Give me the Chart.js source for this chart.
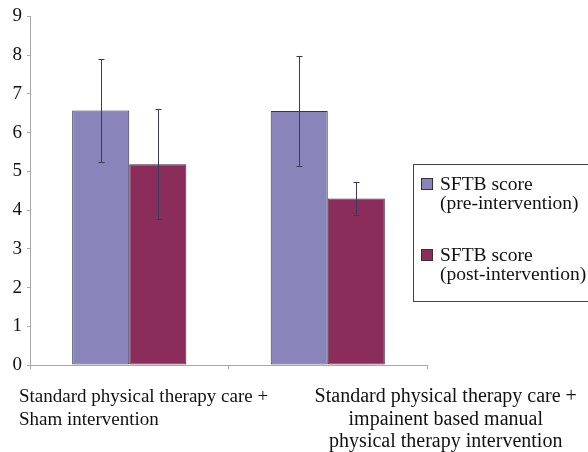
<!DOCTYPE html>
<html>
<head>
<meta charset="utf-8">
<script src="https://cdn.jsdelivr.net/npm/chart.js@4/dist/chart.umd.min.js"></script>
<style>
html,body{margin:0;padding:0;background:#fff;}
#wrap{width:588px;height:452px;position:relative;}
</style>
</head>
<body>
<div id="wrap"><canvas id="c" width="588" height="452"></canvas></div>
<script>
// ---- data ----
const categories = [
  ["Standard physical therapy care +", "Sham intervention"],
  ["Standard physical therapy care +", "impainent based manual", "physical therapy intervention"]
];
const seriesNames = [
  ["SFTB score", "(pre-intervention)"],
  ["SFTB score", "(post-intervention)"]
];
const preValues = [6.57, 6.56];
const preErrors = [1.33, 1.42];
const postValues = [5.18, 4.30];
const postErrors = [1.42, 0.43];
const yTicks = [0, 1, 2, 3, 4, 5, 6, 7, 8, 9];

const FONT = '"Liberation Serif", "Times New Roman", serif';
const AXIS = '#a8a8a8';

const errorBars = {
  id: 'errorBars',
  afterDatasetsDraw(chart) {
    const ctx = chart.ctx;
    const y = chart.scales.y;
    ctx.save();
    chart.data.datasets.forEach((ds, di) => {
      const meta = chart.getDatasetMeta(di);
      meta.data.forEach((bar, i) => {
        const v = ds.data[i], e = ds.errors[i];
        const x = Math.round(bar.x) + 0.5;
        const yt = y.getPixelForValue(v + e);
        const yb = y.getPixelForValue(v - e);
        ctx.strokeStyle = '#3a3a5c';
        ctx.lineWidth = 1;
        ctx.beginPath();
        ctx.moveTo(x, yt); ctx.lineTo(x, yb);
        ctx.moveTo(x - 3, Math.round(yt) + 0.5); ctx.lineTo(x + 3, Math.round(yt) + 0.5);
        ctx.moveTo(x - 3, Math.round(yb) + 0.5); ctx.lineTo(x + 3, Math.round(yb) + 0.5);
        ctx.stroke();
      });
    });
    ctx.restore();
  }
};

const customText = {
  id: 'customText',
  afterDraw(chart) {
    const ctx = chart.ctx;
    const xs = chart.scales.x;
    ctx.save();
    ctx.fillStyle = '#111';
    ctx.textBaseline = 'alphabetic';
    const base = xs.top + 37;
    // category 1: left aligned
    ctx.font = '19px ' + FONT;
    ctx.textAlign = 'left';
    categories[0].forEach((t, k) => ctx.fillText(t, xs.left - 11, base + k * 23));
    // category 2: centered, shifted right
    ctx.font = '20px ' + FONT;
    ctx.textAlign = 'center';
    const cx = xs.getPixelForValue(1) + 118;
    categories[1].forEach((t, k) => ctx.fillText(t, cx, base + k * 22.5));

    // legend
    const lx = 413.5, ly = 164.5;
    ctx.strokeStyle = '#444';
    ctx.lineWidth = 1;
    ctx.strokeRect(lx, ly, 300, 137);
    chart.data.datasets.forEach((ds, di) => {
      const top = 178 + di * 71;
      ctx.fillStyle = ds.backgroundColor;
      ctx.fillRect(421, top, 11, 11);
      ctx.strokeStyle = '#333';
      ctx.strokeRect(421.5, top + 0.5, 11, 11);
      ctx.fillStyle = '#111';
      ctx.textAlign = 'left';
      ctx.font = '19.5px ' + FONT;
      seriesNames[di].forEach((t, k) => ctx.fillText(t, 440, top + 11.5 + k * 19));
    });
    ctx.restore();
  }
};

new Chart(document.getElementById('c'), {
  type: 'bar',
  data: {
    labels: categories,
    datasets: [
      {
        label: seriesNames[0].join(' '),
        data: preValues,
        errors: preErrors,
        backgroundColor: '#8985ba',
        borderColor: '#34345a',
        borderWidth: 1,
        borderSkipped: false,
        categoryPercentage: 0.575,
        barPercentage: 1.0
      },
      {
        label: seriesNames[1].join(' '),
        data: postValues,
        errors: postErrors,
        backgroundColor: '#8b2d5a',
        borderColor: '#4a2238',
        borderWidth: 1,
        borderSkipped: false,
        categoryPercentage: 0.575,
        barPercentage: 1.0
      }
    ]
  },
  options: {
    responsive: false,
    animation: false,
    devicePixelRatio: 1,
    layout: { padding: { left: 0, top: 14, right: 161, bottom: 0 } },
    plugins: {
      legend: { display: false },
      tooltip: { enabled: false },
      title: { display: false }
    },
    scales: {
      x: {
        afterFit(s) { s.height = 87; },
        grid: { display: true, drawOnChartArea: false, drawTicks: true, tickLength: 4, color: AXIS, offset: true },
        border: { display: true, color: AXIS, width: 1 },
        ticks: { display: false }
      },
      y: {
        min: 0,
        max: 9,
        afterFit(s) { s.width = 30; },
        afterBuildTicks(s) { s.ticks = yTicks.map(v => ({ value: v })); },
        grid: { display: true, drawOnChartArea: false, drawTicks: true, tickLength: 3, color: AXIS },
        border: { display: true, color: AXIS, width: 1 },
        ticks: {
          color: '#111',
          padding: 5,
          font: { family: FONT, size: 19 },
          callback: v => String(v)
        }
      }
    }
  },
  plugins: [errorBars, customText]
});
</script>
</body>
</html>
